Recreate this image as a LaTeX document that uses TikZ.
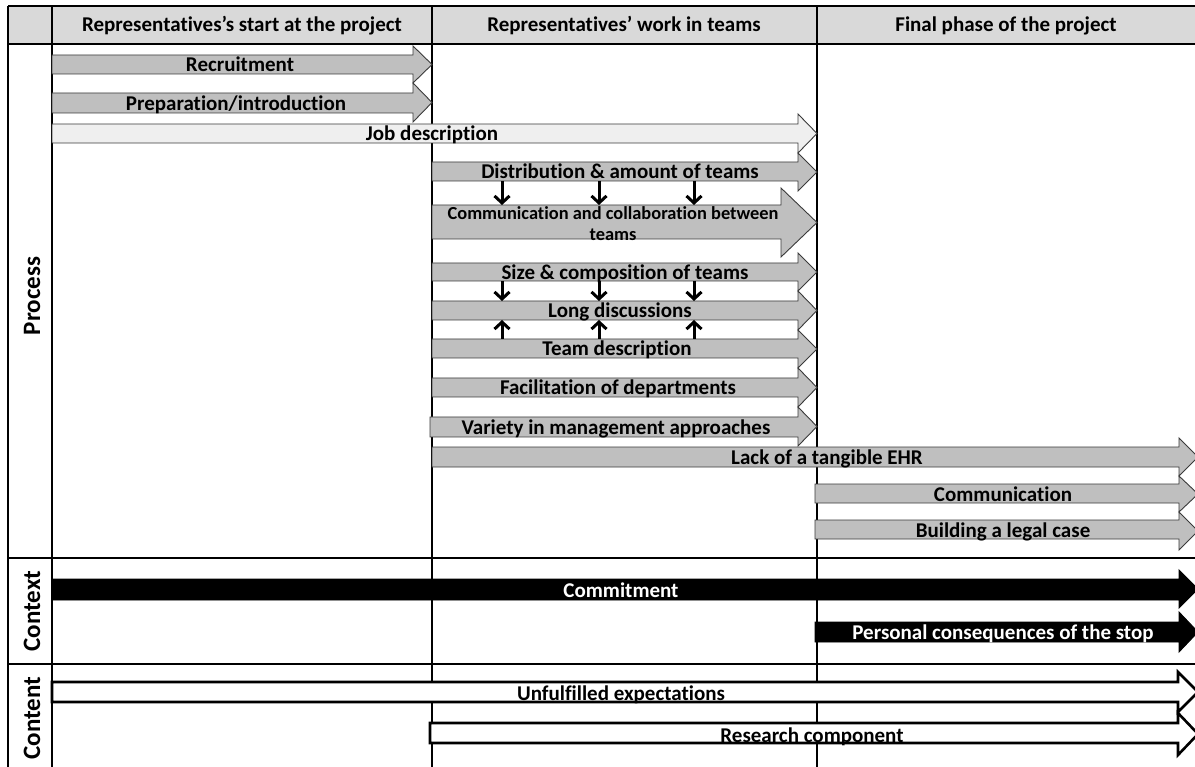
\documentclass[tikz,border=0pt]{standalone}
\usepackage{fontspec}
\setmainfont{Carlito}[RawFeature={-liga;-clig;-calt;-dlig}]
\usetikzlibrary{arrows.meta}
\definecolor{hdrgray}{HTML}{D9D9D9}
\definecolor{arrgray}{HTML}{BFBFBF}
\definecolor{arrlight}{HTML}{EFEFEF}
\definecolor{arredge}{HTML}{3A3A3A}
\newcommand\blockarr[8]{%
  \path[#1] (#2,#5) -- (#3,#5) -- (#3,#7) -- (#4,{(#7+#8)/2}) -- (#3,#8) -- (#3,#6) -- (#2,#6) -- cycle;}
\begin{document}
\begin{tikzpicture}[x=1pt,y=-1pt,
  gridline/.style={line width=1.4pt,draw=black},
  grayarr/.style={fill=arrgray,draw=arredge,line width=0.9pt},
  lightarr/.style={fill=arrlight,draw=arredge,line width=0.9pt},
  blackarr/.style={fill=black,draw=black,line width=0.9pt},
  whitearr/.style={fill=white,draw=black,line width=2.6pt},
  lbl/.style={anchor=base,inner sep=0pt,font=\fontsize{21}{24}\selectfont\bfseries},
  hdr/.style={anchor=base,inner sep=0pt,font=\fontsize{21}{24}\selectfont\bfseries},
  side/.style={rotate=90,inner sep=0pt,font=\fontsize{25}{28}\selectfont\bfseries},
  smallarr/.style={line width=3pt,-{Straight Barb[length=7pt,width=15pt,line width=3pt]}}
]
\useasboundingbox (0,0) rectangle (1195,767);
% header
\fill[hdrgray] (8,6) rectangle (1195,44);
% grid
\draw[gridline] (8,6) -- (1195,6);
\draw[gridline] (8,44) -- (1195,44);
\draw[gridline] (8,558) -- (1195,558);
\draw[gridline] (8,664) -- (1195,664);
\draw[gridline] (8,6) -- (8,767);
\draw[gridline] (52,6) -- (52,767);
\draw[gridline] (432,6) -- (432,767);
\draw[gridline] (817,6) -- (817,767);
% header texts
\node[hdr] (h1) at (242,32) {Representatives’s start at the project};
\node[hdr] (h2) at (624,32) {Representatives’ work in teams};
\node[hdr] (h3) at (1006,32) {Final phase of the project};
% side labels
\node[side] (sp) at (32,296) {Process};
\node[side] (sc) at (32,611) {Context};
\node[side] (sn) at (32,718) {Content};
% process arrows
\blockarr{grayarr}{52}{413}{432}{55}{74}{46}{83}
\blockarr{grayarr}{52}{413}{432}{93}{113}{83}{122}
\blockarr{lightarr}{52}{798}{817}{124}{143}{114}{153}
\blockarr{grayarr}{432}{798}{817}{162}{181}{153}{191}
\blockarr{grayarr}{432}{781}{817}{205}{239}{188}{257}
\blockarr{grayarr}{432}{798}{817}{263}{281}{253}{291}
\blockarr{grayarr}{432}{798}{817}{301}{320}{291}{330}
\blockarr{grayarr}{432}{798}{817}{339}{358}{330}{368}
\blockarr{grayarr}{432}{798}{817}{378}{397}{368}{407}
\blockarr{grayarr}{430}{798}{817}{417}{437}{407}{446}
\blockarr{grayarr}{432}{1179}{1198}{447}{467}{438}{476}
\blockarr{grayarr}{815}{1179}{1198}{484}{503}{476}{512}
\blockarr{grayarr}{815}{1179}{1198}{520}{539}{512}{550}
% context arrows
\blockarr{blackarr}{52}{1179}{1198}{579}{600}{570}{608}
\blockarr{blackarr}{815}{1179}{1198}{622}{642}{612}{652}
% content arrows
\blockarr{whitearr}{52}{1178}{1198}{682}{702}{672}{712}
\blockarr{whitearr}{430}{1178}{1198}{723}{743}{713}{755}
% arrow texts
\node[lbl] (t1) at (240,72) {Recruitment};
\node[lbl] (t2) at (236,110.5) {Preparation/introduction};
\node[lbl] (t3) at (432,141) {Job description};
\node[lbl] (t4) at (620,179) {Distribution \& amount of teams};
\node[anchor=center,inner sep=0pt,align=center,font=\fontsize{18.4}{21}\selectfont\bfseries] (t5) at (613,224) {Communication and collaboration between\\teams};
\node[lbl] (t6) at (625,279.5) {Size \& composition of teams};
\node[lbl] (t7) at (620,318) {Long discussions};
\node[lbl] (t8) at (617,356) {Team description};
\node[lbl] (t9) at (618,395) {Facilitation of departments};
\node[lbl] (t10) at (616,434.5) {Variety in management approaches};
\node[lbl] (t11) at (827,464.5) {Lack of a tangible EHR};
\node[lbl] (t12) at (1003,501) {Communication};
\node[lbl] (t13) at (1003,537) {Building a legal case};
\node[lbl,text=white] (t14) at (621,597) {Commitment};
\node[lbl,text=white] (t15) at (1003,639.5) {Personal consequences of the stop};
\node[lbl] (t16) at (621,700.5) {Unfulfilled expectations};
\node[lbl] (t17) at (812,742.5) {Research component};
% small connectors
\foreach \i/\x in {1/502,2/599,3/694}{
  \coordinate (da\i) at (\x,181);
  \coordinate (db\i) at (\x,205);
  \coordinate (dc\i) at (\x,281);
  \coordinate (dd\i) at (\x,301);
  \coordinate (ua\i) at (\x,339);
  \coordinate (ub\i) at (\x,320);
  \draw[smallarr] (da\i) -- (db\i);
  \draw[smallarr] (dc\i) -- (dd\i);
  \draw[smallarr] (ua\i) -- (ub\i);
}
\end{tikzpicture}
\end{document}
